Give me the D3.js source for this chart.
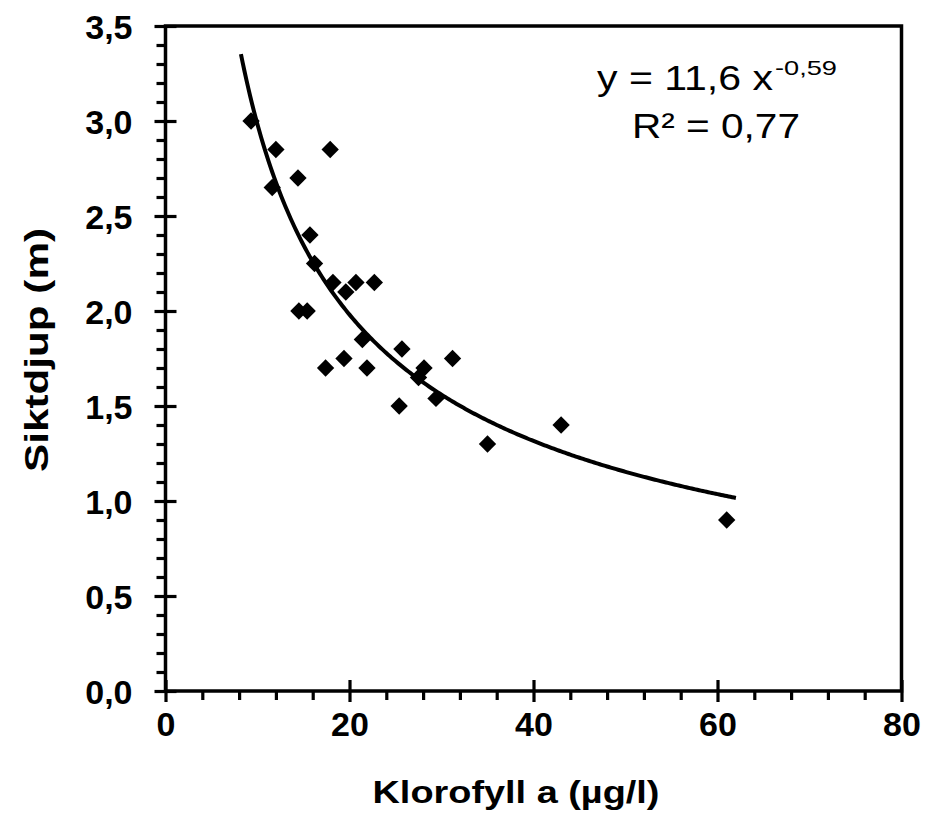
<!DOCTYPE html>
<html>
<head>
<meta charset="utf-8">
<script src="https://cdn.jsdelivr.net/npm/d3@7"></script>
<style>
  body { margin: 0; background: #fff; }
  svg { display: block; }
  text { fill: #000; }
</style>
</head>
<body>
<svg id="chart" width="932" height="822"></svg>
<script>
// klorofyll a (µg/l) vs siktdjup (m)
var chlorophyll = [9.3, 12.0, 17.9, 14.4, 11.6, 15.7, 16.2, 18.2, 20.7, 22.7, 19.6, 14.5, 15.4,
                   21.4, 25.7, 19.4, 31.2, 17.4, 21.9, 28.1, 27.5, 29.4, 25.4, 43.0, 35.0, 61.0];
var secchi = [3.0, 2.85, 2.85, 2.7, 2.65, 2.4, 2.25, 2.15, 2.15, 2.15, 2.1, 2.0, 2.0,
              1.85, 1.8, 1.75, 1.75, 1.7, 1.7, 1.7, 1.65, 1.54, 1.5, 1.4, 1.3, 0.9];
// power trend: y = a * x^b
var trendCoef = [11.6, -0.59];
var trendRange = [8.2, 62];
var xTicks = [0, 20, 40, 60, 80];
var yTicks = [0, 0.5, 1.0, 1.5, 2.0, 2.5, 3.0, 3.5];

var svg = d3.select("#chart");
var m = {left: 165.5, top: 26, right: 30.5, bottom: 131};
var w = 932 - m.left - m.right, h = 822 - m.top - m.bottom;
var g = svg.append("g").attr("transform", "translate(" + m.left + "," + m.top + ")");

var x = d3.scaleLinear().domain([0, 80]).range([0, w]);
var y = d3.scaleLinear().domain([0, 3.5]).range([h, 0]);

var fmt = function(d){ return d3.format(".1f")(d).replace(".", ","); };
var font = "'Liberation Sans', Arial, sans-serif";

// box
g.append("rect").attr("width", w).attr("height", h)
  .attr("fill", "none").attr("stroke", "#000").attr("stroke-width", 3.5);

// minor ticks
var minorX = d3.range(0, 81, 4).filter(function(d){ return d % 20 !== 0; });
var minorY = d3.range(0, 36, 1).map(function(d){ return d / 10; }).filter(function(d){ return Math.round(d*10) % 5 !== 0; });

g.append("g").attr("transform", "translate(0," + h + ")")
  .call(d3.axisBottom(x).tickValues(minorX).tickSize(9).tickFormat(""))
  .call(function(s){ s.select(".domain").remove(); });
g.append("g")
  .call(d3.axisLeft(y).tickValues(minorY).tickSize(9).tickFormat(""))
  .call(function(s){ s.select(".domain").remove(); });

// major ticks, crossing the axis
var xAx = g.append("g").attr("transform", "translate(0," + h + ")")
  .call(d3.axisBottom(x).tickValues(xTicks).tickSize(11).tickPadding(10).tickFormat(d3.format("d")));
g.append("g").attr("transform", "translate(0," + h + ")")
  .call(d3.axisBottom(x).tickValues(xTicks).tickSize(-11).tickFormat(""));
var yAx = g.append("g")
  .call(d3.axisLeft(y).tickValues(yTicks).tickSize(11).tickPadding(22).tickFormat(fmt));
g.append("g")
  .call(d3.axisLeft(y).tickValues(yTicks).tickSize(-11).tickFormat(""));

g.selectAll(".domain").remove();
g.selectAll(".tick line").attr("stroke", "#000").attr("stroke-width", 3.2);
g.selectAll(".tick text")
  .style("font-family", font)
  .style("font-weight", "bold").style("font-size", "34px");
xAx.selectAll(".tick text").attr("dy", "0.71em");
yAx.selectAll(".tick text").attr("dy", "0.36em");

// trend line
var trendX = d3.range(trendRange[0], trendRange[1] + 0.01, 0.2);
var line = d3.line()
  .x(function(d){ return x(d); })
  .y(function(d){ return y(trendCoef[0] * Math.pow(d, trendCoef[1])); });
g.append("path").datum(trendX).attr("d", line)
  .attr("fill", "none").attr("stroke", "#000").attr("stroke-width", 4);

// points
var sym = d3.symbol().type(d3.symbolSquare).size(150);
g.selectAll(".pt").data(chlorophyll).enter().append("path")
  .attr("class", "pt")
  .attr("d", sym)
  .attr("transform", function(d, i){ return "translate(" + x(d) + "," + y(secchi[i]) + ") rotate(45)"; })
  .attr("fill", "#000");

// axis titles
svg.append("text").attr("x", 516).attr("y", 803)
  .attr("text-anchor", "middle")
  .attr("textLength", 287).attr("lengthAdjust", "spacingAndGlyphs")
  .style("font-family", font)
  .style("font-weight", "bold").style("font-size", "31px")
  .text("Klorofyll a (µg/l)");
svg.append("text").attr("transform", "translate(48,350) rotate(-90)")
  .attr("text-anchor", "middle")
  .attr("textLength", 244).attr("lengthAdjust", "spacingAndGlyphs")
  .style("font-family", font)
  .style("font-weight", "bold").style("font-size", "34px")
  .text("Siktdjup (m)");

// equation
svg.append("text").attr("x", 597).attr("y", 90)
  .attr("textLength", 176).attr("lengthAdjust", "spacingAndGlyphs")
  .style("font-family", font).style("font-size", "35px")
  .text("y = 11,6 x");
svg.append("text").attr("x", 775).attr("y", 75)
  .attr("textLength", 62).attr("lengthAdjust", "spacingAndGlyphs")
  .style("font-family", font).style("font-size", "21px")
  .text("-0,59");
svg.append("text").attr("x", 632).attr("y", 138)
  .attr("textLength", 168).attr("lengthAdjust", "spacingAndGlyphs")
  .style("font-family", font).style("font-size", "35px")
  .text("R² = 0,77");
</script>
</body>
</html>
